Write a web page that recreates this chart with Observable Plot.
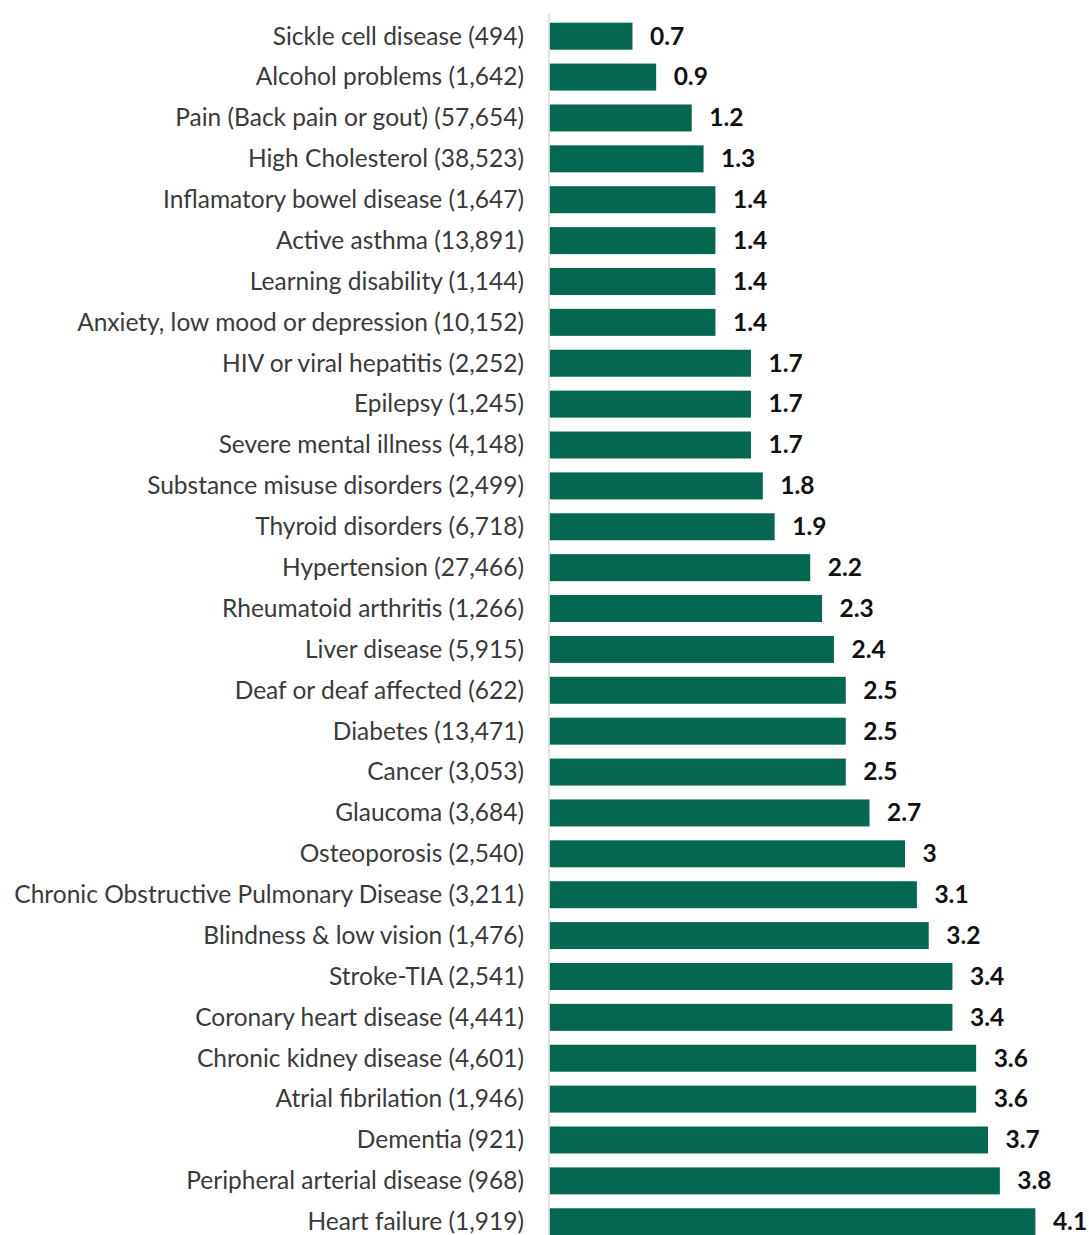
<!DOCTYPE html>
<html>
<head>
<meta charset="utf-8">
<script src="https://cdn.jsdelivr.net/npm/d3@7"></script>
<script src="https://cdn.jsdelivr.net/npm/@observablehq/plot@0.6"></script>
<style>
  html, body { margin: 0; padding: 0; background: #fff; }
  #chart svg { display: block; }
</style>
</head>
<body>
<div id="chart"></div>
<script>
const conditions = [
  "Sickle cell disease", "Alcohol problems", "Pain (Back pain or gout)", "High Cholesterol",
  "Inflamatory bowel disease", "Active asthma", "Learning disability",
  "Anxiety, low mood or depression", "HIV or viral hepatitis", "Epilepsy",
  "Severe mental illness", "Substance misuse disorders", "Thyroid disorders",
  "Hypertension", "Rheumatoid arthritis", "Liver disease", "Deaf or deaf affected",
  "Diabetes", "Cancer", "Glaucoma", "Osteoporosis",
  "Chronic Obstructive Pulmonary Disease", "Blindness & low vision", "Stroke-TIA",
  "Coronary heart disease", "Chronic kidney disease", "Atrial fibrilation",
  "Dementia", "Peripheral arterial disease", "Heart failure"
];
const counts = [
  "494", "1,642", "57,654", "38,523", "1,647", "13,891", "1,144", "10,152",
  "2,252", "1,245", "4,148", "2,499", "6,718", "27,466", "1,266", "5,915",
  "622", "13,471", "3,053", "3,684", "2,540", "3,211", "1,476", "2,541",
  "4,441", "4,601", "1,946", "921", "968", "1,919"
];
const values = [
  0.7, 0.9, 1.2, 1.3, 1.4, 1.4, 1.4, 1.4, 1.7, 1.7, 1.7, 1.8, 1.9, 2.2, 2.3,
  2.4, 2.5, 2.5, 2.5, 2.7, 3, 3.1, 3.2, 3.4, 3.4, 3.6, 3.6, 3.7, 3.8, 4.1
];

const data = conditions.map((c, i) => ({
  label: `${c} (${counts[i]})`,
  value: values[i]
}));
const order = data.map(d => d.label);

const chart = Plot.plot({
  width: 1089,
  height: 1235,
  marginLeft: 549.5,
  marginRight: 53.6,
  marginTop: 14,
  marginBottom: 0,
  style: { fontFamily: "Lato, sans-serif", fontSize: "24.5px", background: "#fff" },
  x: { domain: [0, 4.1], axis: null },
  y: { domain: order, range: [15.75, 1242.2], round: false, paddingInner: 0.34, paddingOuter: 0.17, label: null },
  marks: [
    Plot.barX(data, { x: "value", y: "label", fill: "#03684f" }),
    Plot.ruleX([0], { stroke: "#d9d9d9", strokeWidth: 1.5, dx: -1 }),
    Plot.axisY({ tickSize: 0, tickPadding: 26, fill: "#3a3a3a", fontSize: 24.5, label: null }),
    Plot.text(data, {
      x: "value", y: "label", text: d => String(d.value),
      textAnchor: "start", dx: 17, fontWeight: "bold", fill: "#111", fontSize: 24.5
    })
  ]
});
document.getElementById("chart").appendChild(chart);
</script>
</body>
</html>
